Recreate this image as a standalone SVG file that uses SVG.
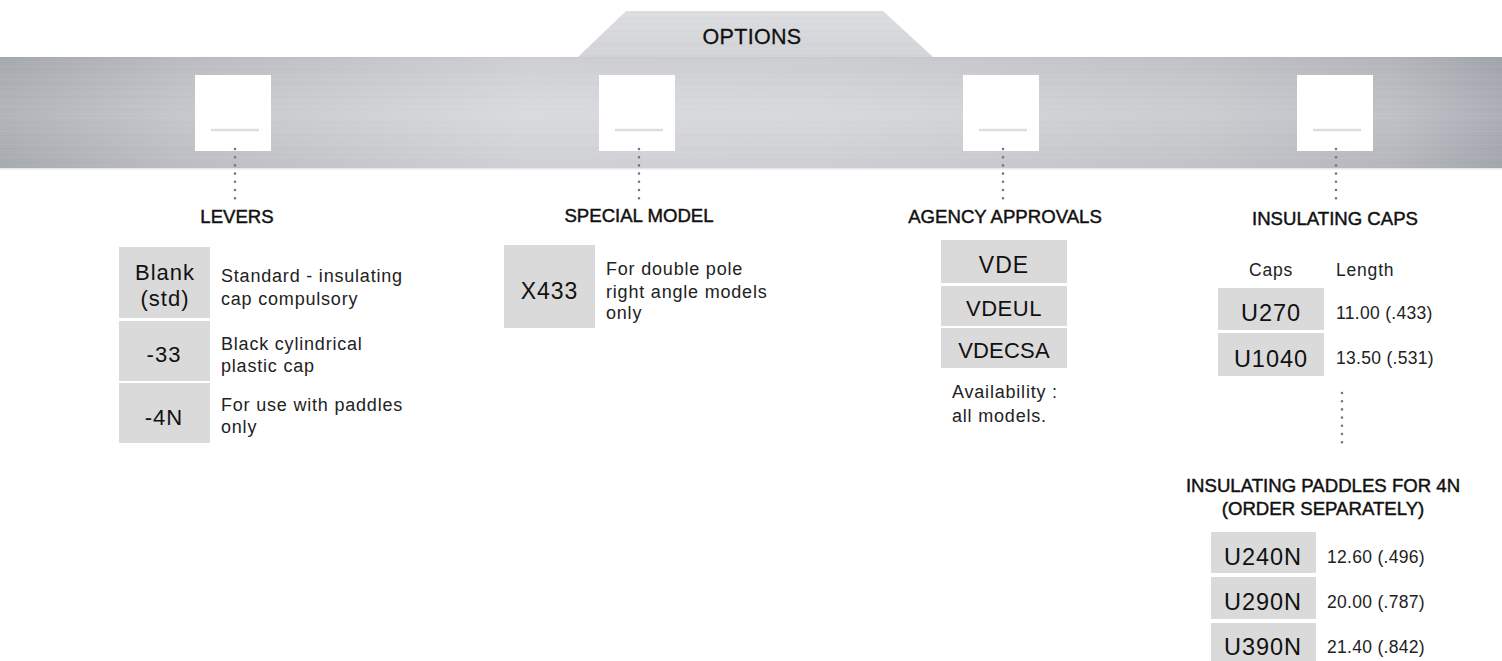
<svg xmlns="http://www.w3.org/2000/svg" width="1502" height="661" viewBox="0 0 1502 661">
<defs>
<linearGradient id="band" x1="0" y1="0" x2="1" y2="0">
<stop offset="0" stop-color="#aeb1b7"/>
<stop offset="0.12" stop-color="#c3c5ca"/>
<stop offset="0.35" stop-color="#d8d9dc"/>
<stop offset="0.55" stop-color="#d6d7da"/>
<stop offset="0.8" stop-color="#c9cbcf"/>
<stop offset="0.93" stop-color="#bcbec4"/>
<stop offset="1" stop-color="#a9acb3"/>
</linearGradient>
<linearGradient id="trap" x1="0" y1="0" x2="0" y2="1">
<stop offset="0" stop-color="#dcdde0"/>
<stop offset="1" stop-color="#d2d3d7"/>
</linearGradient>
<linearGradient id="shade" x1="0" y1="0" x2="0" y2="1">
<stop offset="0" stop-color="#000" stop-opacity="0.05"/>
<stop offset="0.5" stop-color="#fff" stop-opacity="0.04"/>
<stop offset="1" stop-color="#000" stop-opacity="0.04"/>
</linearGradient>
<pattern id="brush" width="400" height="13" patternUnits="userSpaceOnUse">
<rect x="0" y="1" width="400" height="1" fill="#fff" opacity="0.06"/>
<rect x="0" y="5" width="400" height="1" fill="#000" opacity="0.015"/>
<rect x="0" y="9" width="400" height="1" fill="#fff" opacity="0.04"/>
</pattern>
</defs>
<style>
.cell{fill:#dadada}
.win{fill:#ffffff}
.winline{stroke:#dddddd;stroke-width:2.5}
.dots{fill:none;stroke:#777777;stroke-width:2.6;stroke-linecap:round;stroke-dasharray:0 8.2}
text{font-family:"Liberation Sans",Arial,sans-serif;fill:#111}
.title{font-size:21.5px;letter-spacing:0.3px;text-anchor:middle;stroke:#111;stroke-width:0.3px}
.head{font-size:18.6px;text-anchor:middle;stroke:#111;stroke-width:0.45px}
.lab{font-size:22px;letter-spacing:1px;text-anchor:middle}
.desc{font-size:18px;letter-spacing:0.8px;fill:#222}
.val{font-size:17.5px;letter-spacing:0.3px;fill:#222}
.colh{font-size:17.5px;letter-spacing:0.8px;fill:#222}
</style>
<g id="banner">
<polygon points="626,11 883,11 933,57 578,57" fill="url(#trap)"/>
<polygon points="626,11 883,11 933,57 578,57" fill="url(#brush)"/>
<rect x="0" y="57" width="1502" height="112" fill="url(#band)"/>
<rect x="0" y="57" width="1502" height="112" fill="url(#brush)"/>
<rect x="0" y="57" width="1502" height="112" fill="url(#shade)"/>
<rect x="0" y="168" width="1502" height="1.5" fill="#e6e7e9"/>
<text class="title" x="752" y="44">OPTIONS</text>
</g>
<g id="windows">
<rect class="win" x="195" y="75" width="76" height="76"/>
<line class="winline" x1="211" y1="130" x2="259" y2="130"/>
<rect class="win" x="599" y="75" width="76" height="76"/>
<line class="winline" x1="615" y1="130" x2="663" y2="130"/>
<rect class="win" x="963" y="75" width="76" height="76"/>
<line class="winline" x1="979" y1="130" x2="1027" y2="130"/>
<rect class="win" x="1297" y="75" width="76" height="76"/>
<line class="winline" x1="1313" y1="130" x2="1361" y2="130"/>
</g>
<g id="connectors">
<line class="dots" x1="235" y1="149" x2="235" y2="199"/>
<line class="dots" x1="639" y1="149" x2="639" y2="199"/>
<line class="dots" x1="1003" y1="149" x2="1003" y2="199"/>
<line class="dots" x1="1336" y1="149" x2="1336" y2="199"/>
<line class="dots" x1="1342" y1="393" x2="1342" y2="450"/>
</g>
<g id="levers">
<text class="head" x="237" y="223">LEVERS</text>
<rect class="cell" x="119" y="247" width="91" height="71"/>
<rect class="cell" x="119" y="321" width="91" height="60"/>
<rect class="cell" x="119" y="383" width="91" height="60"/>
<text class="lab" x="165" y="280">Blank</text>
<text class="lab" x="165" y="306">(std)</text>
<text class="lab" x="164" y="362">-33</text>
<text class="lab" x="164" y="425">-4N</text>
<text class="desc" x="221" y="281.5">Standard - insulating</text>
<text class="desc" x="221" y="305">cap compulsory</text>
<text class="desc" x="221" y="350">Black cylindrical</text>
<text class="desc" x="221" y="372">plastic cap</text>
<text class="desc" x="221" y="411">For use with paddles</text>
<text class="desc" x="221" y="433">only</text>
</g>
<g id="special-model">
<text class="head" x="639" y="222">SPECIAL MODEL</text>
<rect class="cell" x="504" y="245" width="91" height="83"/>
<text class="lab" x="549.5" y="299" style="font-size:23px">X433</text>
<text class="desc" x="606" y="275">For double pole</text>
<text class="desc" x="606" y="297.5">right angle models</text>
<text class="desc" x="606" y="318.5">only</text>
</g>
<g id="agency-approvals">
<text class="head" x="1005" y="223">AGENCY APPROVALS</text>
<rect class="cell" x="941" y="240" width="126" height="43"/>
<rect class="cell" x="941" y="286" width="126" height="40"/>
<rect class="cell" x="941" y="328" width="126" height="40"/>
<text class="lab" x="1004" y="273" style="font-size:23px">VDE</text>
<text class="lab" x="1004" y="316" style="letter-spacing:0.5px">VDEUL</text>
<text class="lab" x="1004" y="358" style="letter-spacing:0.2px">VDECSA</text>
<text class="desc" x="952" y="398">Availability :</text>
<text class="desc" x="952" y="422">all models.</text>
</g>
<g id="insulating-caps">
<text class="head" x="1335" y="225">INSULATING CAPS</text>
<text class="colh" x="1271" y="276" text-anchor="middle">Caps</text>
<text class="colh" x="1336" y="276">Length</text>
<rect class="cell" x="1218" y="288" width="106" height="42"/>
<rect class="cell" x="1218" y="333" width="106" height="43"/>
<text class="lab" x="1271" y="321" style="font-size:23.5px">U270</text>
<text class="lab" x="1271" y="367" style="font-size:23.5px">U1040</text>
<text class="val" x="1336" y="319">11.00 (.433)</text>
<text class="val" x="1336" y="364">13.50 (.531)</text>
</g>
<g id="insulating-paddles">
<text class="head" x="1323" y="492">INSULATING PADDLES FOR 4N</text>
<text class="head" x="1323" y="515">(ORDER SEPARATELY)</text>
<rect class="cell" x="1211" y="532" width="105" height="41"/>
<rect class="cell" x="1211" y="577" width="105" height="42"/>
<rect class="cell" x="1211" y="623" width="105" height="45"/>
<text class="lab" x="1263" y="565" style="font-size:23.5px">U240N</text>
<text class="lab" x="1263" y="610" style="font-size:23.5px">U290N</text>
<text class="lab" x="1263" y="655" style="font-size:23.5px">U390N</text>
<text class="val" x="1327" y="563">12.60 (.496)</text>
<text class="val" x="1327" y="608">20.00 (.787)</text>
<text class="val" x="1327" y="653">21.40 (.842)</text>
</g>
</svg>
